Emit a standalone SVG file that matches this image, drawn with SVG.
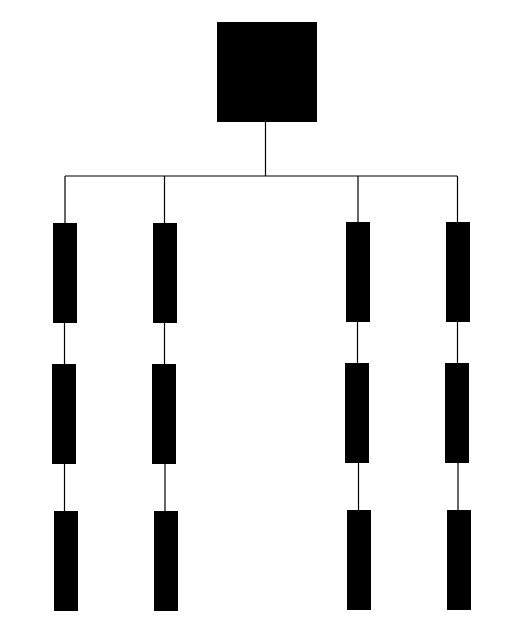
<svg xmlns="http://www.w3.org/2000/svg" width="523" height="629" viewBox="0 0 523 629">
<style>
.n{fill:#000;stroke:none}
.e{fill:none;stroke:#000;stroke-width:1.2}
</style>
<rect width="523" height="629" fill="#fff"/>
<g id="connectors">
<path class="e" d="M265.5 122V176M65 176H457.5M65 176V223M164.5 176V223M358 176V222M457.5 176V222"/>
<path class="e" d="M64.5 323V364M64.5 464V511M164.5 323V364M165 464V511M357.5 322V363M358.5 463V510M457.5 322V363M458 463V510"/>
</g>
<g id="root"><rect class="n" x="217" y="22" width="100" height="100"/></g>
<g id="c1r1"><rect class="n" x="53" y="223" width="24" height="100"/></g>
<g id="c1r2"><rect class="n" x="52" y="364" width="24" height="100"/></g>
<g id="c1r3"><rect class="n" x="54" y="511" width="24" height="100"/></g>
<g id="c2r1"><rect class="n" x="153" y="223" width="24" height="100"/></g>
<g id="c2r2"><rect class="n" x="152" y="364" width="24" height="100"/></g>
<g id="c2r3"><rect class="n" x="154" y="511" width="24" height="100"/></g>
<g id="c3r1"><rect class="n" x="346" y="222" width="24" height="100"/></g>
<g id="c3r2"><rect class="n" x="345" y="363" width="24" height="100"/></g>
<g id="c3r3"><rect class="n" x="347" y="510" width="24" height="100"/></g>
<g id="c4r1"><rect class="n" x="446" y="222" width="24" height="100"/></g>
<g id="c4r2"><rect class="n" x="445" y="363" width="24" height="100"/></g>
<g id="c4r3"><rect class="n" x="447" y="510" width="24" height="100"/></g>
</svg>
